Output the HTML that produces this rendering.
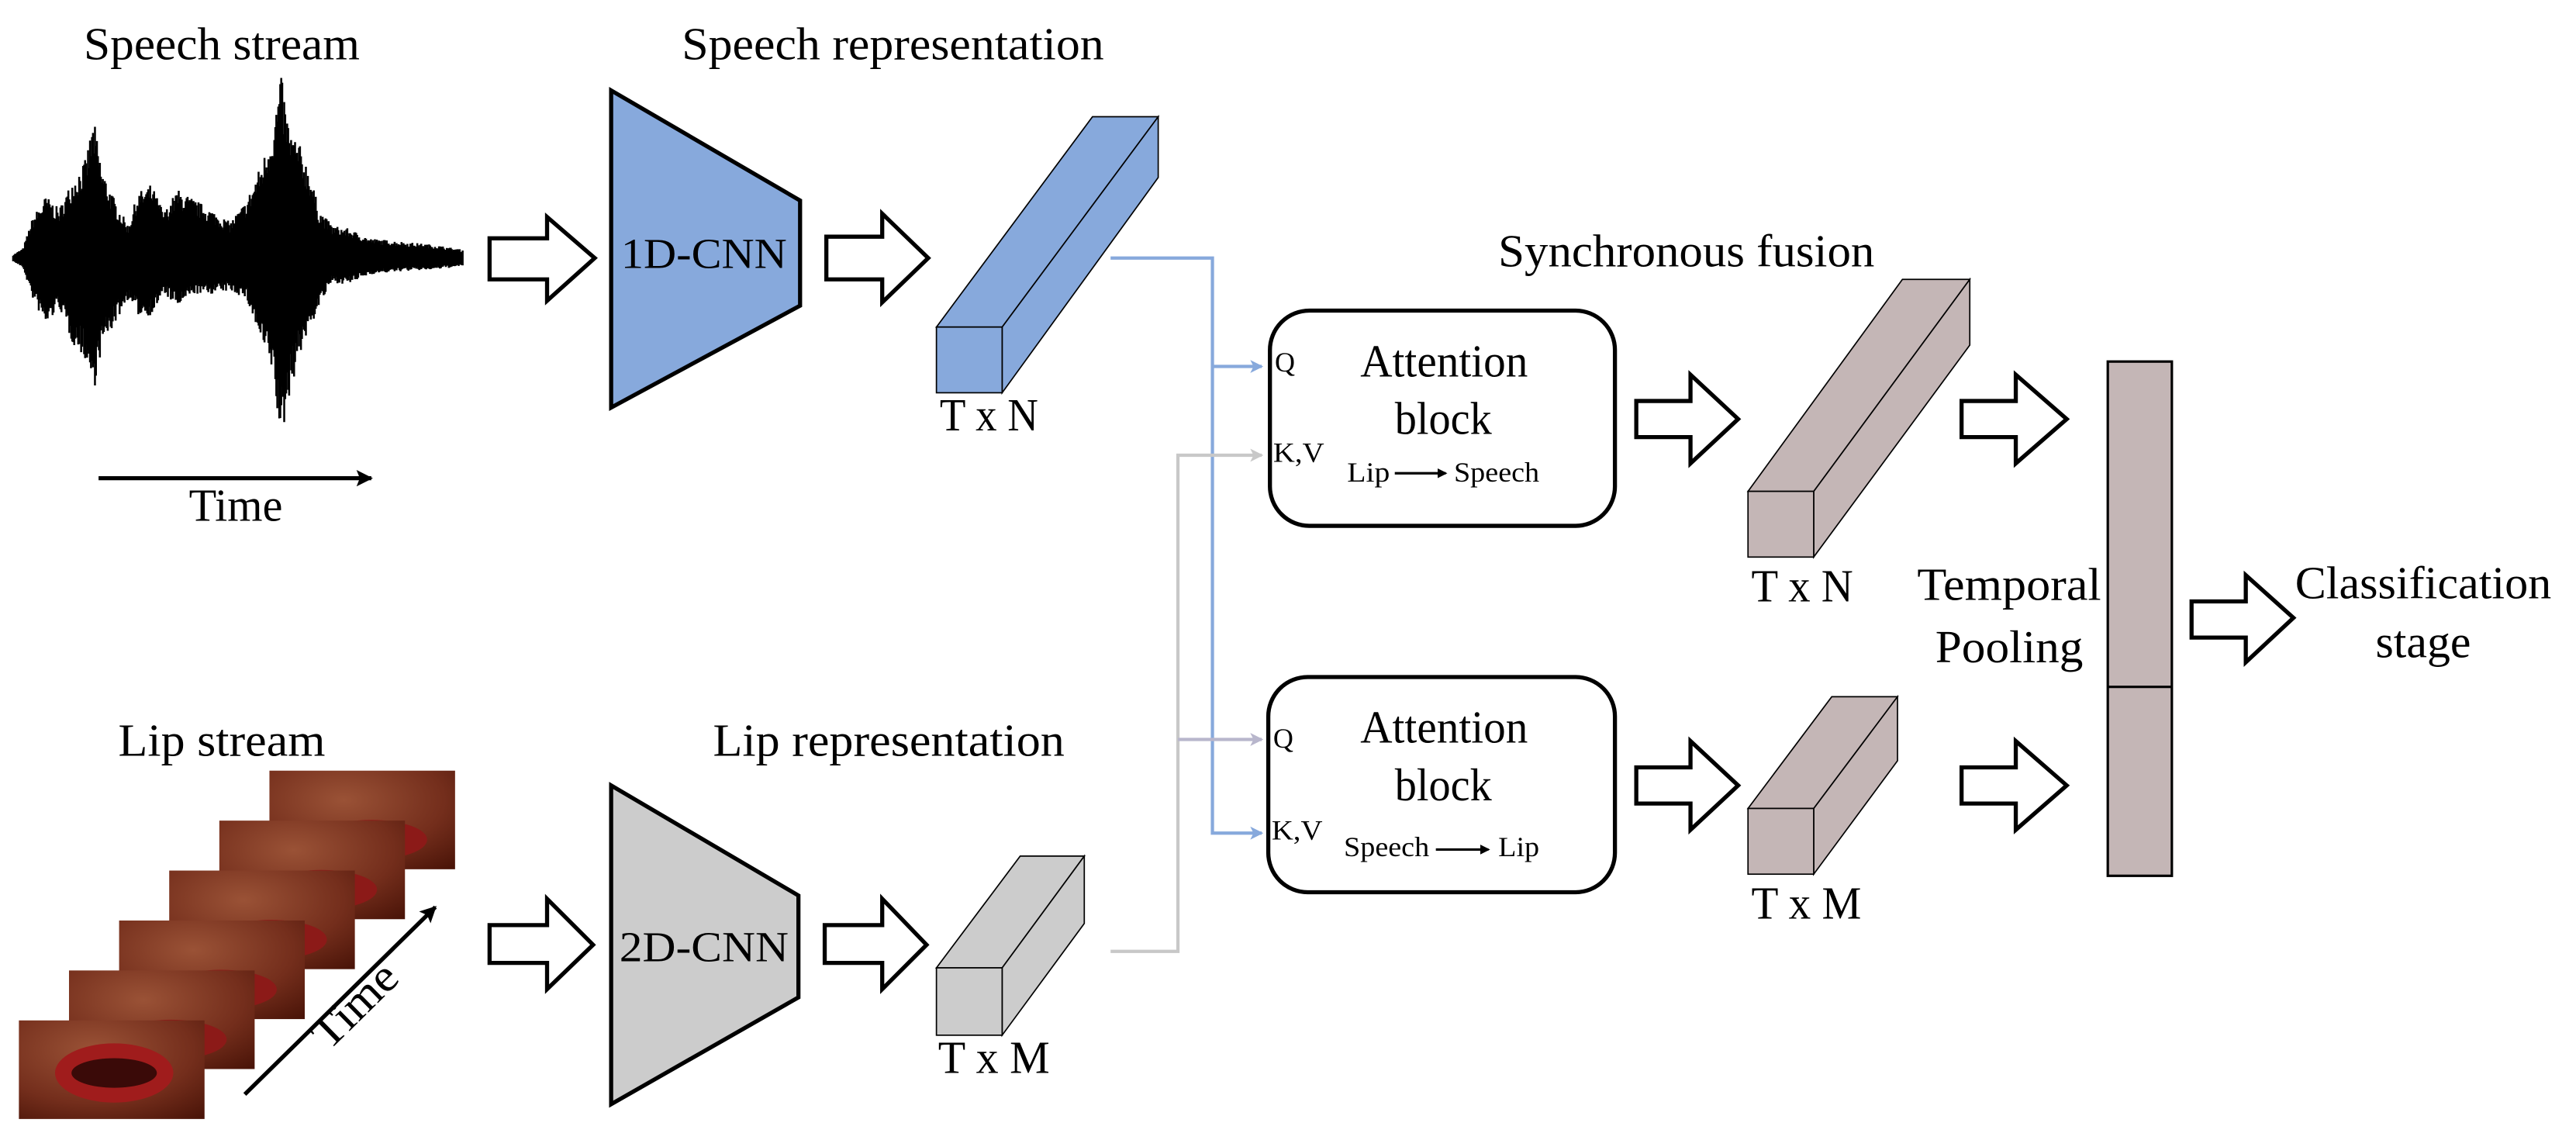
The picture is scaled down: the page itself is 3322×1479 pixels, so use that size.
<!DOCTYPE html>
<html><head><meta charset="utf-8"><style>
html,body{margin:0;padding:0;background:#fff;}
svg{display:block;}
text{font-family:"Liberation Serif",serif;fill:#000;}
</style></head><body>
<svg id="s" width="3322" height="1479" viewBox="0 0 1568 698" xmlns="http://www.w3.org/2000/svg">
<defs>
<marker id="mb" markerWidth="8" markerHeight="8" refX="7" refY="4" orient="auto" markerUnits="userSpaceOnUse"><path d="M0,0 L8,4 L0,8 L2,4 z" fill="#87a9dc"/></marker>
<marker id="mg" markerWidth="8" markerHeight="8" refX="7" refY="4" orient="auto" markerUnits="userSpaceOnUse"><path d="M0,0 L8,4 L0,8 L2,4 z" fill="#c8c8c8"/></marker>
<marker id="mp" markerWidth="8" markerHeight="8" refX="7" refY="4" orient="auto" markerUnits="userSpaceOnUse"><path d="M0,0 L8,4 L0,8 L2,4 z" fill="#b8b6cc"/></marker>
<marker id="mk" markerWidth="10" markerHeight="10" refX="9" refY="5" orient="auto" markerUnits="userSpaceOnUse"><path d="M0,0 L10,5 L0,10 L2,5 z" fill="#000"/></marker>
<marker id="ms" markerWidth="6" markerHeight="6" refX="5" refY="3" orient="auto" markerUnits="userSpaceOnUse"><path d="M0,0 L6,3 L0,6 z" fill="#000"/></marker>
<radialGradient id="skin" cx="0.4" cy="0.3" r="0.9"><stop offset="0" stop-color="#9a5236"/><stop offset="0.6" stop-color="#742e1c"/><stop offset="1" stop-color="#4a1408"/></radialGradient>
</defs>

<text x="51" y="36" font-size="28" textLength="168" lengthAdjust="spacingAndGlyphs">Speech stream</text>
<text x="415" y="36" font-size="28" textLength="257" lengthAdjust="spacingAndGlyphs">Speech representation</text>
<text x="72" y="460" font-size="28" textLength="126" lengthAdjust="spacingAndGlyphs">Lip stream</text>
<text x="434" y="460" font-size="28" textLength="214" lengthAdjust="spacingAndGlyphs">Lip representation</text>
<text x="912" y="162" font-size="28" textLength="229" lengthAdjust="spacingAndGlyphs">Synchronous fusion</text>

<g id="wave" stroke="#000" stroke-width="1.2"></g>
<line x1="60" y1="291" x2="226" y2="291" stroke="#000" stroke-width="2.5" marker-end="url(#mk)"/>
<text x="115" y="317" font-size="28" textLength="57" lengthAdjust="spacingAndGlyphs">Time</text>

<g fill="#fff" stroke="#000" stroke-width="2.5" stroke-linejoin="miter">
<polygon points="298,145 333,145 333,132 362,157 333,183 333,170 298,170"/>
<polygon points="503,144 537,144 537,130 565,157 537,184 537,170 503,170"/>
<polygon points="298,563 333,563 333,547 361,575 333,602 333,586 298,586"/>
<polygon points="502,563 537,563 537,547 564,575 537,602 537,586 502,586"/>
<polygon points="996,244 1029,244 1029,228 1058,255 1029,282 1029,266 996,266"/>
<polygon points="1194,244 1227,244 1227,228 1258,255 1227,282 1227,266 1194,266"/>
<polygon points="996,467 1029,467 1029,451 1058,478 1029,505 1029,489 996,489"/>
<polygon points="1194,467 1227,467 1227,451 1258,478 1227,505 1227,489 1194,489"/>
<polygon points="1334,366 1367,366 1367,350 1396,376 1367,403 1367,388 1334,388"/>
</g>

<polygon points="372,55 487,122 487,186 372,248" fill="#87a9dc" stroke="#000" stroke-width="2.5"/>
<text x="378" y="163" font-size="26" textLength="101" lengthAdjust="spacingAndGlyphs">1D-CNN</text>
<polygon points="372,478 486,545 486,607 372,672" fill="#cccccc" stroke="#000" stroke-width="2.5"/>
<text x="377" y="585" font-size="26" textLength="103" lengthAdjust="spacingAndGlyphs">2D-CNN</text>

<g stroke="#000" stroke-width="0.8">
<polygon points="570,199 665,71 705,71 610,199" fill="#87a9dc"/>
<polygon points="610,199 705,71 705,108 610,239" fill="#87a9dc"/>
<rect x="570" y="199" width="40" height="40" fill="#87a9dc"/>

<polygon points="570,589 621,521 660,521 610,589" fill="#cccccc"/>
<polygon points="610,589 660,521 660,562 610,630" fill="#cccccc"/>
<rect x="570" y="589" width="40" height="41" fill="#cccccc"/>

<polygon points="1064,299 1158,170 1199,170 1104,299" fill="#c4b6b6"/>
<polygon points="1104,299 1199,170 1199,210 1104,339" fill="#c4b6b6"/>
<rect x="1064" y="299" width="40" height="40" fill="#c4b6b6"/>

<polygon points="1064,492 1115,424 1155,424 1104,492" fill="#c4b6b6"/>
<polygon points="1104,492 1155,424 1155,463 1104,532" fill="#c4b6b6"/>
<rect x="1064" y="492" width="40" height="40" fill="#c4b6b6"/>
</g>
<text x="572" y="262" font-size="28" textLength="60" lengthAdjust="spacingAndGlyphs">T x N</text>
<text x="571" y="653" font-size="28" textLength="68" lengthAdjust="spacingAndGlyphs">T x M</text>
<text x="1066" y="366" font-size="28" textLength="62" lengthAdjust="spacingAndGlyphs">T x N</text>
<text x="1066" y="559" font-size="28" textLength="67" lengthAdjust="spacingAndGlyphs">T x M</text>

<g fill="none" stroke-width="2">
<polyline points="676,157 738,157 738,507 768,507" stroke="#87a9dc" marker-end="url(#mb)"/>
<line x1="738" y1="223" x2="768" y2="223" stroke="#87a9dc" marker-end="url(#mb)"/>
<polyline points="676,579 717,579 717,277 768,277" stroke="#c8c8c8" marker-end="url(#mg)"/>
<line x1="717" y1="450" x2="768" y2="450" stroke="#b8b6cc" marker-end="url(#mp)"/>
</g>

<rect x="773" y="189" width="210" height="131" rx="24" ry="24" fill="#fff" stroke="#000" stroke-width="2.5"/>
<rect x="772" y="412" width="211" height="131" rx="24" ry="24" fill="#fff" stroke="#000" stroke-width="2.5"/>
<text x="828" y="229" font-size="28" textLength="102" lengthAdjust="spacingAndGlyphs">Attention</text>
<text x="849" y="264" font-size="28" textLength="59" lengthAdjust="spacingAndGlyphs">block</text>
<text x="776" y="226" font-size="17">Q</text>
<text x="775" y="281" font-size="17" textLength="31" lengthAdjust="spacingAndGlyphs">K,V</text>
<text x="820" y="293" font-size="17" textLength="26" lengthAdjust="spacingAndGlyphs">Lip</text>
<line x1="849" y1="288" x2="880" y2="288" stroke="#000" stroke-width="1.5" marker-end="url(#ms)"/>
<text x="885" y="293" font-size="17" textLength="52" lengthAdjust="spacingAndGlyphs">Speech</text>

<text x="828" y="452" font-size="28" textLength="102" lengthAdjust="spacingAndGlyphs">Attention</text>
<text x="849" y="487" font-size="28" textLength="59" lengthAdjust="spacingAndGlyphs">block</text>
<text x="775" y="455" font-size="17">Q</text>
<text x="774" y="511" font-size="17" textLength="31" lengthAdjust="spacingAndGlyphs">K,V</text>
<text x="818" y="521" font-size="17" textLength="52" lengthAdjust="spacingAndGlyphs">Speech</text>
<line x1="874" y1="517" x2="906" y2="517" stroke="#000" stroke-width="1.5" marker-end="url(#ms)"/>
<text x="912" y="521" font-size="17" textLength="25" lengthAdjust="spacingAndGlyphs">Lip</text>

<rect x="1283" y="220" width="39" height="313" fill="#c4b6b6" stroke="#000" stroke-width="1.5"/>
<line x1="1283" y1="418" x2="1322" y2="418" stroke="#000" stroke-width="1.5"/>
<text x="1167" y="365" font-size="28" textLength="112" lengthAdjust="spacingAndGlyphs">Temporal</text>
<text x="1178" y="403" font-size="28" textLength="90" lengthAdjust="spacingAndGlyphs">Pooling</text>
<text x="1397" y="364" font-size="28" textLength="156" lengthAdjust="spacingAndGlyphs">Classification</text>
<text x="1446" y="400" font-size="28" textLength="58" lengthAdjust="spacingAndGlyphs">stage</text>

<g id="frames"></g>
<line x1="149" y1="666" x2="265" y2="552" stroke="#000" stroke-width="2.5" marker-end="url(#mk)"/>
<text x="0" y="0" font-size="28" transform="translate(200,640) rotate(-44.5)" textLength="62" lengthAdjust="spacingAndGlyphs">Time</text>
</svg>
<script>
(function(){
var ns="http://www.w3.org/2000/svg";
var w=document.getElementById("wave");
var env=[[8,2,2],[14,6,6],[20,25,25],[28,38,42],[36,30,30],[44,48,52],[52,60,62],[57,85,82],[62,55,55],[70,35,40],[78,20,25],[84,40,35],[92,45,35],[100,28,22],[108,42,30],[118,36,22],[128,30,22],[140,22,20],[150,35,25],[160,60,55],[166,80,70],[171,112,115],[176,80,85],[182,70,60],[188,55,45],[194,30,30],[202,20,15],[212,18,16],[225,12,10],[245,10,8],[265,8,7],[282,5,5]];
function interp(x,k){for(var i=0;i<env.length-1;i++){if(x>=env[i][0]&&x<=env[i+1][0]){var t=(x-env[i][0])/(env[i+1][0]-env[i][0]);return env[i][k]*(1-t)+env[i+1][k]*t;}}return 0;}
var seed=7;function r(){seed=(seed*16807)%2147483647;return seed/2147483647;}
for(var x=8;x<=282;x+=0.6){var a=interp(x,1)*(0.7+0.3*r()),b=interp(x,2)*(0.7+0.3*r());
var l=document.createElementNS(ns,"line");l.setAttribute("x1",x);l.setAttribute("x2",x);l.setAttribute("y1",157-a);l.setAttribute("y2",157+b);w.appendChild(l);}
var f=document.getElementById("frames");
for(var i=0;i<6;i++){var x0=164-i*30.5,y0=469+i*30.4;
var g=document.createElementNS(ns,"g");
var m=(i==5)?'<ellipse cx="'+(x0+58)+'" cy="'+(y0+32)+'" rx="36" ry="18" fill="#a01c1c"/><ellipse cx="'+(x0+58)+'" cy="'+(y0+32)+'" rx="26" ry="9" fill="#3a0a08"/>'
:'<ellipse cx="'+(x0+62)+'" cy="'+(y0+42)+'" rx="34" ry="12" fill="#8c1a18"/>'+(i>=2?'<ellipse cx="'+(x0+64)+'" cy="'+(y0+46)+'" rx="16" ry="4" fill="#c8b0a8"/>':'');
g.innerHTML='<rect x="'+x0+'" y="'+y0+'" width="113" height="60" fill="url(#skin)"/>'+m;
f.appendChild(g);}
})();
</script>
</body></html>
